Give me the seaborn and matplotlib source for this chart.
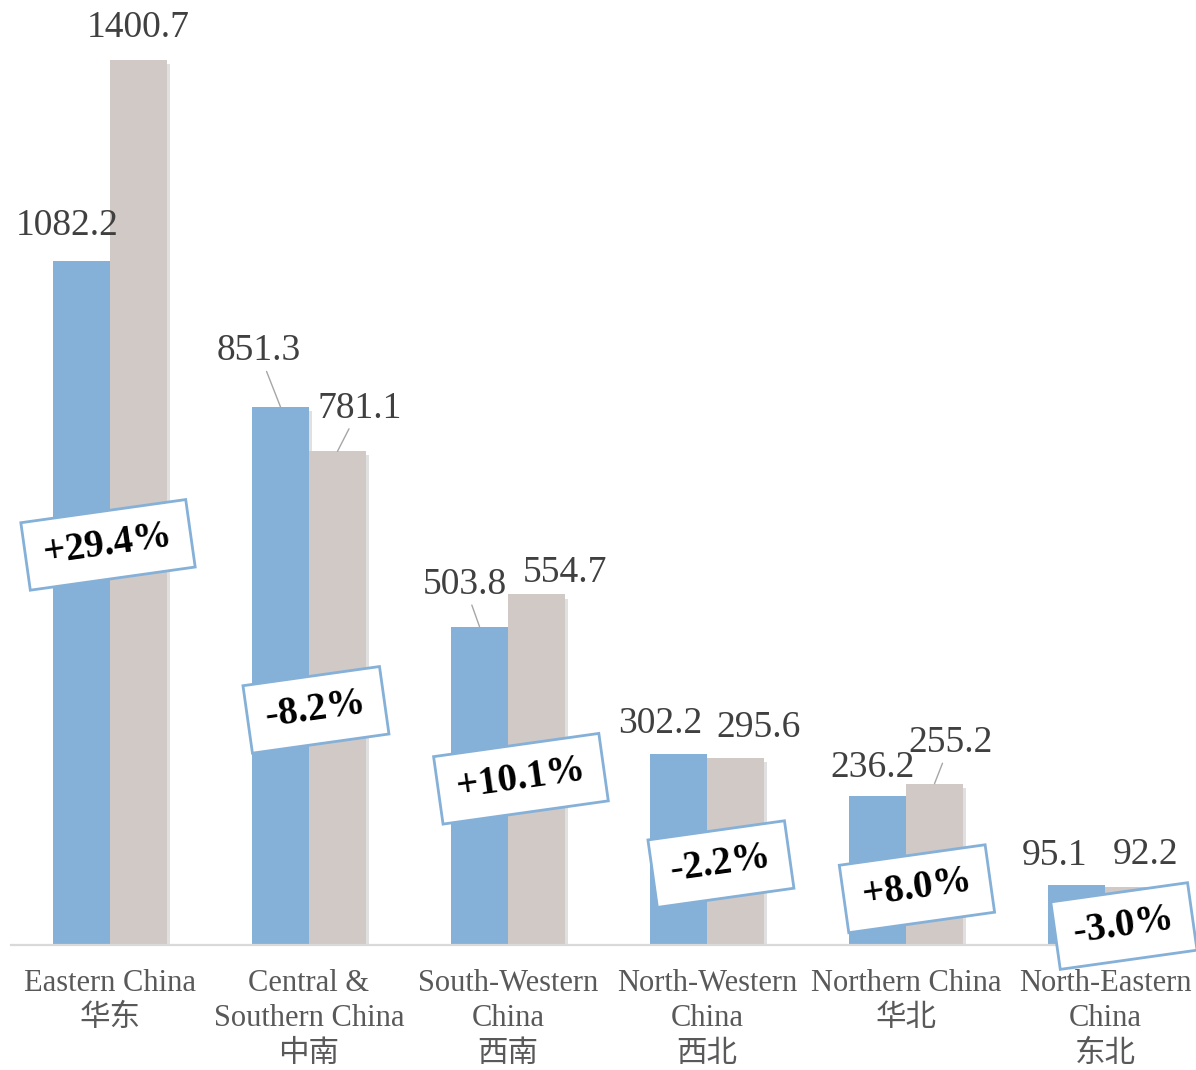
import matplotlib
matplotlib.use("Agg")
import matplotlib.pyplot as plt
import matplotlib.patheffects as pe
import seaborn as sns
import pandas as pd

# %% data
regions = ["Eastern China\n华东", "Central &\nSouthern China\n中南",
           "South-Western\nChina\n西南", "North-Western\nChina\n西北",
           "Northern China\n华北", "North-Eastern\nChina\n东北"]
series = ["before", "after"]
values_before = [1082.2, 851.3, 503.8, 302.2, 236.2, 95.1]
values_after = [1400.7, 781.1, 554.7, 295.6, 255.2, 92.2]
change_labels = ["+29.4%", "-8.2%", "+10.1%", "-2.2%", "+8.0%", "-3.0%"]

# %% layout / style (pixel offsets of value labels, box anchors)
blue = "#85B0D8"
grey = "#D1C9C6"
off_before = [(-14, 35), (-22, 56), (-15, 42), (-18, 30), (-5, 28), (-22, 29)]
off_after = [(0, 32), (22, 43), (28, 22), (23, 30), (16, 41), (12, 32)]
leader_before = [False, True, True, False, False, False]
leader_after = [False, True, False, False, True, False]
box_pos = [(-0.01, 633), (1.035, 372), (2.065, 263), (3.07, 128), (4.055, 89), (5.095, 30)]

df = pd.DataFrame({
    "region": regions * 2,
    "series": [series[0]] * len(regions) + [series[1]] * len(regions),
    "value": values_before + values_after,
})

sns.set_style("white")
plt.rcParams["font.family"] = ["Liberation Serif", "Noto Sans CJK SC"]

fig = plt.figure(figsize=(11.96, 10.7), dpi=100)
ax = fig.add_axes([10.5 / 1196, 125 / 1070, 1194 / 1196, 945 / 1070])

sns.barplot(data=df, x="region", y="value", hue="series", order=regions,
            hue_order=series, palette=[blue, grey], width=0.573,
            saturation=1, legend=False, linewidth=0, ax=ax)

for bar in ax.patches:
    bar.set_path_effects([pe.SimplePatchShadow(offset=(2, -3), shadow_rgbFace="#999999", alpha=0.3),
                          pe.Normal()])

ax.set_xlim(-0.5, 5.5)
ax.set_ylim(0, 1495)
ax.set_xlabel("")
ax.set_ylabel("")
ax.set_yticks([])
for s in ["top", "right", "left"]:
    ax.spines[s].set_visible(False)
ax.spines["bottom"].set_color("#D9D9D9")
ax.spines["bottom"].set_linewidth(1.6)
ax.tick_params(axis="x", length=0, pad=17, labelsize=22, labelcolor="#595959")
for lbl in ax.get_xticklabels():
    lbl.set_linespacing(1.3)

# value labels
dodge = 0.573 / 4
for i in range(len(regions)):
    for val, off, lead, dx in [(values_before[i], off_before[i], leader_before[i], -dodge),
                               (values_after[i], off_after[i], leader_after[i], dodge)]:
        arrow = dict(arrowstyle="-", color="#A6A6A6", lw=1, shrinkA=0, shrinkB=0) if lead else None
        ax.annotate(f"{val:.1f}", xy=(i + dx, val), xytext=off, textcoords="offset pixels",
                    ha="center", va="center", fontsize=27, color="#404040",
                    arrowprops=arrow, annotation_clip=False)

# change boxes
for (bx, by), txt in zip(box_pos, change_labels):
    ax.text(bx, by, "\u200a" + txt + "\u200a", ha="center", va="center", rotation=8,
            fontsize=28, fontweight="bold", color="black", zorder=5,
            bbox=dict(boxstyle="square,pad=0.4", fc="white", ec=blue, lw=2))

fig.savefig("out.png", dpi=100)
